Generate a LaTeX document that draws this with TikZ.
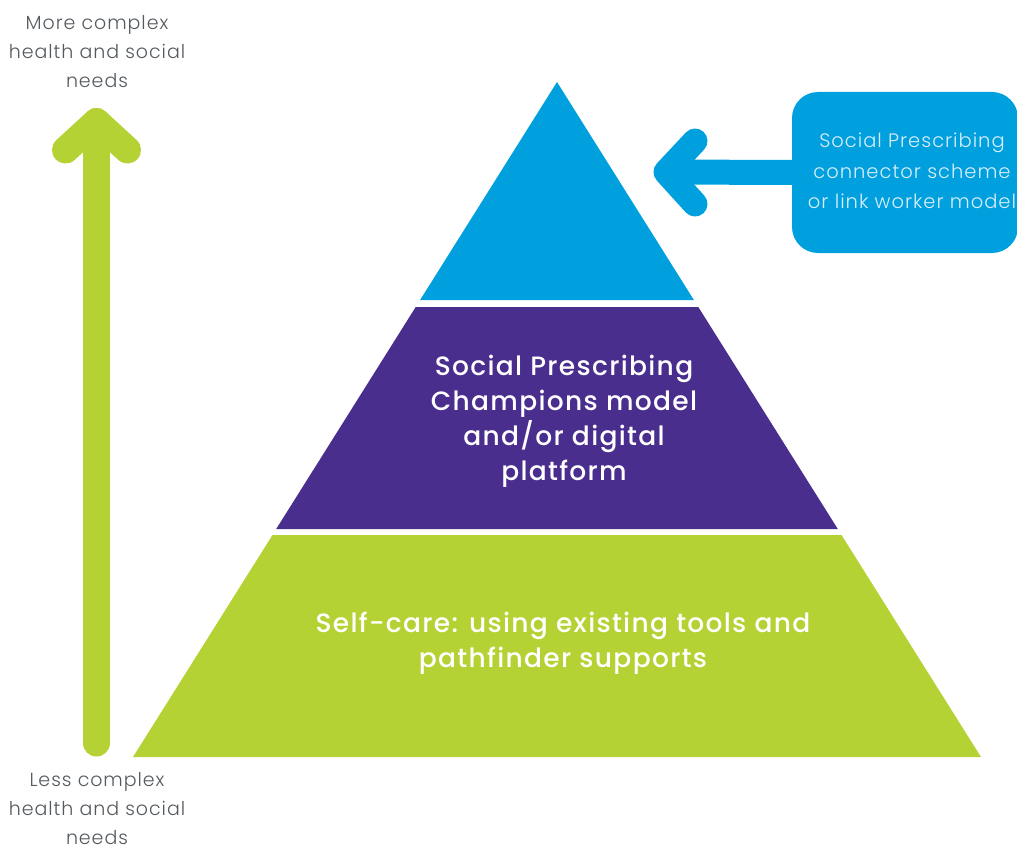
\documentclass[tikz,border=0pt]{standalone}
\usepackage{fontspec}
\setmainfont{Poppins}
\newfontfamily\lightf{Poppins Light}[LetterSpace=5]
\newfontfamily\medf{Poppins Medium}[LetterSpace=5]
\definecolor{pblue}{RGB}{0,160,223}
\definecolor{ppurple}{RGB}{74,46,142}
\definecolor{pgreen}{RGB}{181,210,52}
\definecolor{labgray}{RGB}{85,90,95}
\definecolor{boxtext}{RGB}{215,238,250}
\begin{document}
\begin{tikzpicture}[x=1pt,y=-1pt,
  sidelabel/.style={align=center,text=labgray,font=\lightf\fontsize{19}{29}\selectfont,inner sep=0pt},
  tiertext/.style={align=center,text=white,font=\medf\fontsize{26.5}{35}\selectfont,inner sep=0pt},
  boxlabel/.style={align=center,text=boxtext,font=\lightf\fontsize{19.5}{30.5}\selectfont,inner sep=0pt},
  fatarrow/.style={line width=27pt,line cap=round,line join=round}]
\useasboundingbox (0,0) rectangle (1017,853);
\begin{scope}
\clip (0,0) rectangle (1017,853);
% pyramid tiers
\fill[pblue] (557,82) -- (693.9,300) -- (420.1,300) -- cycle;
\fill[ppurple] (415.7,307) -- (698.3,307) -- (837.8,529) -- (276.2,529) -- cycle;
\fill[pgreen] (272.5,535) -- (841.5,535) -- (981,757) -- (133,757) -- cycle;
\node[tiertext] (mid) at (564,421) {Social Prescribing\\Champions model\\and/or digital\\platform};
\node[tiertext] (low) at (563,643) {Self-care: using existing tools and\\pathfinder supports};
% connector box
\node[fill=pblue,rounded corners=26pt,minimum width=226pt,minimum height=161pt,inner sep=0pt] (box) at (905,172.5) {};
\node[boxlabel] (boxt) at (912,171) {Social Prescribing\\connector scheme\\or link worker model};
% blue arrow
\coordinate (btip) at (666,172);
\coordinate (bup) at (695,141);
\coordinate (bdn) at (695,204);
\draw[pblue,line width=25pt,line cap=butt] (box.west) -- (btip);
\draw[pblue,fatarrow,line width=25pt] (bup) -- (btip) -- (bdn);
% green arrow
\coordinate (gtop) at (96.5,121.5);
\coordinate (gbot) at (96.5,743);
\coordinate (gl) at (65.5,150);
\coordinate (gr) at (127.5,150);
\draw[pgreen,fatarrow] (gbot) -- (gtop);
\draw[pgreen,fatarrow] (gl) -- (gtop) -- (gr);
% labels
\node[sidelabel] (more) at (97,52) {More complex\\health and social\\needs};
\node[sidelabel] (less) at (97,809) {Less complex\\health and social\\needs};
\end{scope}
\end{tikzpicture}
\end{document}
